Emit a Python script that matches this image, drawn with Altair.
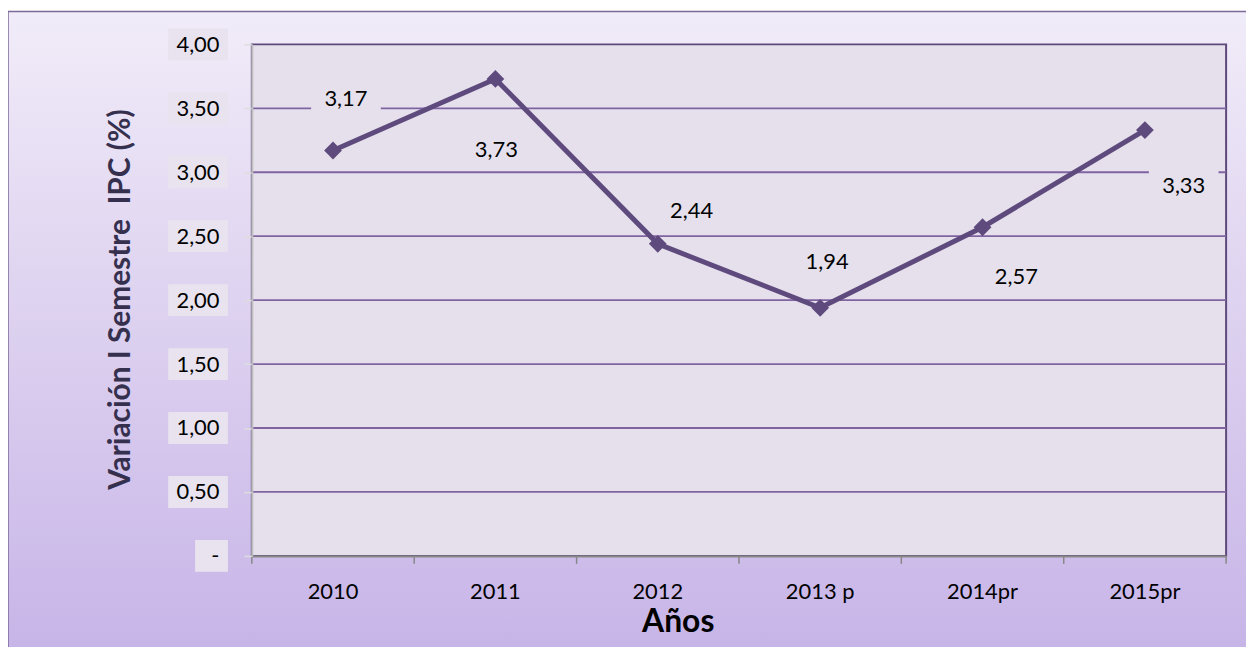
import altair as alt
import pandas as pd

# ---- data ----
years = ["2010", "2011", "2012", "2013 p", "2014pr", "2015pr"]
values = [3.17, 3.73, 2.44, 1.94, 2.57, 3.33]
y_tick_values = [0, 0.5, 1.0, 1.5, 2.0, 2.5, 3.0, 3.5, 4.0]
grid_values = [0.5, 1.0, 1.5, 2.0, 2.5, 3.0, 3.5]

# ---- styles ----
W, H = 979, 514
FONT = "Lato"
LINE = "#5F4A7E"
GRID = "#8064A2"
PLOT_BG = "#E5E0EC"
# data-label offsets from each point (dx, dy), in pixels
label_offsets = {
    "2010": (13, -52),
    "2011": (1, 71),
    "2012": (34, -33),
    "2013 p": (7, -46),
    "2014pr": (34, 50),
    "2015pr": (39, 56),
}

df = pd.DataFrame({"year": years, "value": values})
one = pd.DataFrame({"k": [0]})
ticks_df = pd.DataFrame({"value": y_tick_values})
grid_df = pd.DataFrame({"value": grid_values})

xscale = alt.Scale(type="band", domain=years, paddingInner=0, paddingOuter=0)
yscale = alt.Scale(domain=[0, 4], nice=False, zero=True)

x_axis = alt.Axis(title="Años", labelAngle=0, labelFontSize=22, labelFont=FONT,
                  labelColor="#000000", labelPadding=26, ticks=False, tickSize=0,
                  domainColor="#898989", domainWidth=2, grid=False,
                  titleFont=FONT, titleFontSize=32, titleFontWeight="bold",
                  titleColor="#000000", titleX=428, titleY=76,
                  titleAlign="center", titleBaseline="alphabetic",
                  labelOverlap=False, zindex=1)
y_axis = alt.Axis(title="Variación I Semestre\u00a0 IPC (%)", values=y_tick_values,
                  labelExpr="datum.value == 0 ? '-' : replace(format(datum.value, '.2f'), '.', ',')",
                  labelFontSize=22, labelFont=FONT, labelColor="#000000",
                  labelPadding=25, tickSize=8, tickColor="#DDDDDD", tickWidth=1.5,
                  domainColor="#BFBFBF", domainWidth=2, grid=False,
                  titleFont=FONT, titleFontSize=30, titleFontWeight="bold",
                  titleColor="#36304F", titleAngle=270, titleX=-123, titleY=256,
                  titleAlign="center", titleBaseline="alphabetic", zindex=1)


def X(**kw):
    return alt.X("year:N", scale=xscale, sort=years, axis=x_axis, **kw)


def Y():
    return alt.Y("value:Q", scale=yscale, axis=y_axis)


# outer gradient frame
frame = alt.Chart(one).mark_rect(
    fill=alt.Gradient(
        gradient="linear",
        stops=[alt.GradientStop(color="#F1ECF9", offset=0),
               alt.GradientStop(color="#DCD0EF", offset=0.5),
               alt.GradientStop(color="#C7B4E8", offset=1)],
        x1=0, x2=0, y1=0, y2=1),
    stroke="#7B6A98", strokeWidth=1.5,
).encode(x=alt.value(-245), x2=alt.value(W + 40), y=alt.value(-33), y2=alt.value(H + 100))

# plot area
plot_bg = alt.Chart(one).mark_rect(fill=PLOT_BG, stroke="#5E4A7A", strokeWidth=2).encode(
    x=alt.value(0), x2=alt.value(W), y=alt.value(0), y2=alt.value(H))

# y tick label boxes
ybox = alt.Chart(ticks_df).transform_filter("datum.value > 0").mark_point(
    shape="M-84,-16H-24V16H-84Z", size=4, filled=True, opacity=1, color="#E8E3EE", clip=False
).encode(x=alt.value(0), y=Y())
ybox0 = alt.Chart(ticks_df).transform_filter("datum.value == 0").mark_point(
    shape="M-57,-16H-24V16H-57Z", size=4, filled=True, opacity=1, color="#E8E3EE", clip=False
).encode(x=alt.value(0), y=Y())

# gridlines
grid = alt.Chart(grid_df).mark_rule(color=GRID, strokeWidth=1.8).encode(y=Y())

# x boundary ticks
xt_start = alt.Chart(df).mark_rule(color="#868686", strokeWidth=1.5).encode(
    x=X(bandPosition=0), y=alt.value(H), y2=alt.value(H + 8))
xt_end = alt.Chart(df).transform_filter(alt.datum.year == years[-1]).mark_rule(
    color="#868686", strokeWidth=1.5).encode(
    x=X(bandPosition=1), y=alt.value(H), y2=alt.value(H + 8))

# label masks (break the gridlines behind labels) and labels
masks = []
labels = []
for yr in years:
    dx, dy = label_offsets[yr]
    path = f"M{dx-35},{dy-15}H{dx+35}V{dy+15}H{dx-35}Z"
    masks.append(
        alt.Chart(df).transform_filter(alt.datum.year == yr).mark_point(
            shape=path, size=4, filled=True, opacity=1, color=PLOT_BG
        ).encode(x=X(), y=Y())
    )
    labels.append(
        alt.Chart(df).transform_filter(alt.datum.year == yr)
        .transform_calculate(label="replace(format(datum.value, '.2f'), '.', ',')")
        .mark_text(dx=dx, dy=dy, align="center", baseline="middle", font=FONT,
                   fontSize=22, color="#000000")
        .encode(x=X(), y=Y(), text="label:N")
    )

line = alt.Chart(df).mark_line(color=LINE, strokeWidth=5).encode(x=X(), y=Y())

points = alt.Chart(df).mark_point(shape="diamond", filled=True, size=320, opacity=1,
                                  color=LINE).encode(x=X(), y=Y())

chart = alt.layer(
    frame, plot_bg, ybox, ybox0, grid, xt_start, xt_end, *masks, line, points, *labels
).properties(
    width=W, height=H,
    padding={"left": 245, "top": 35, "right": 20, "bottom": 90},
    autosize=alt.AutoSizeParams(type="none"),
    background="#FFFFFF",
).configure_view(strokeWidth=0)

chart.save("out.html", embed_options={"renderer": "svg", "actions": False})
